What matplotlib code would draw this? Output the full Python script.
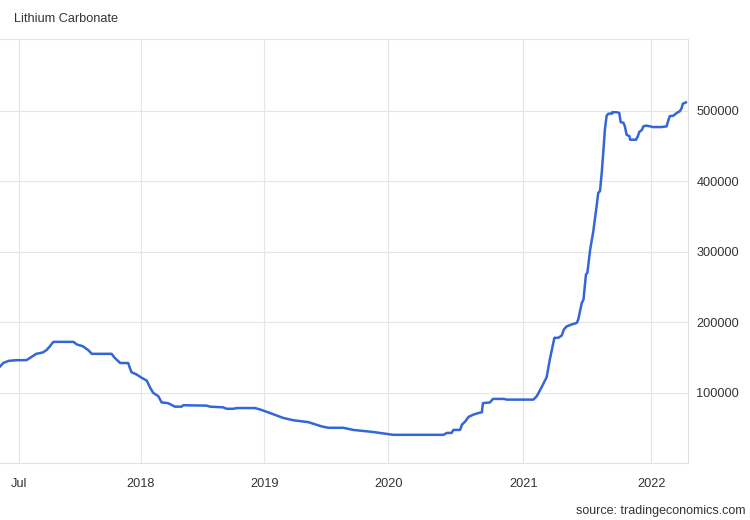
import numpy as np
import pandas as pd
import matplotlib
matplotlib.use("Agg")
import matplotlib.pyplot as plt
import matplotlib.dates as mdates

plt.rcParams['font.family'] = ['Liberation Sans', 'DejaVu Sans']

# Lithium carbonate price (CNY/T)
dates = [
    '2017-06-02', '2017-06-07', '2017-06-15', '2017-06-27', '2017-07-12', '2017-07-17',
    '2017-07-22', '2017-07-27', '2017-08-06', '2017-08-11', '2017-08-16', '2017-08-21',
    '2017-08-22', '2017-09-21', '2017-09-27', '2017-10-05', '2017-10-14', '2017-10-19',
    '2017-11-18', '2017-11-23', '2017-12-01', '2017-12-13', '2017-12-18', '2017-12-26',
    '2018-01-04', '2018-01-19', '2018-01-29', '2018-02-07', '2018-02-22', '2018-03-04',
    '2018-03-23', '2018-04-12', '2018-05-02', '2018-05-07', '2018-07-15', '2018-07-25',
    '2018-09-02', '2018-09-12', '2018-10-02', '2018-10-12', '2018-12-05', '2018-12-20',
    '2019-01-18', '2019-02-26', '2019-03-28', '2019-05-11', '2019-06-19', '2019-07-09',
    '2019-08-22', '2019-09-20', '2019-11-18', '2020-01-15', '2020-05-30', '2020-06-08',
    '2020-06-21', '2020-06-26', '2020-07-14', '2020-07-19', '2020-07-28', '2020-08-06',
    '2020-08-19', '2020-09-02', '2020-09-11', '2020-09-14', '2020-10-03', '2020-10-11',
    '2020-11-09', '2020-11-18', '2021-01-30', '2021-02-09', '2021-02-23', '2021-03-09',
    '2021-03-18', '2021-03-31', '2021-04-11', '2021-04-21', '2021-04-27', '2021-05-05',
    '2021-05-19', '2021-06-03', '2021-06-07', '2021-06-17', '2021-06-22', '2021-06-29',
    '2021-07-03', '2021-07-11', '2021-07-20', '2021-07-30', '2021-08-03', '2021-08-08',
    '2021-08-13', '2021-08-18', '2021-08-22', '2021-08-27', '2021-09-01', '2021-09-11',
    '2021-09-12', '2021-09-25', '2021-10-02', '2021-10-06', '2021-10-14', '2021-10-18',
    '2021-10-23', '2021-10-31', '2021-11-02', '2021-11-19', '2021-11-24', '2021-11-28',
    '2021-12-05', '2021-12-10', '2021-12-17', '2021-12-29', '2022-01-05', '2022-01-31',
    '2022-02-14', '2022-02-18', '2022-02-23', '2022-03-05', '2022-03-15', '2022-03-24',
    '2022-03-29', '2022-04-01', '2022-04-10',
]
prices = [
    137000, 142000, 145000, 146000, 146000, 149000,
    152000, 155000, 157000, 160000, 165000, 171000,
    172000, 172000, 168000, 166000, 160000, 155000,
    155000, 149000, 142000, 142000, 129000, 125600,
    121000, 117000, 107000, 99600, 95000, 86000,
    85000, 80000, 80000, 82000, 81500, 80000,
    79000, 77000, 77000, 78000, 78000, 76000,
    71000, 64000, 60700, 58000, 52000, 50000,
    50000, 47000, 44000, 40000, 40000, 42700,
    42700, 47000, 47000, 54500, 59000, 65500,
    68700, 71000, 72000, 85000, 86000, 91000,
    91000, 90000, 90000, 95000, 108000, 122000,
    147000, 177700, 177700, 181000, 189500, 194000,
    196600, 199000, 203700, 227000, 232000, 267600,
    270000, 303000, 329000, 367000, 383600, 386000,
    412000, 445000, 473600, 493000, 496000, 496000,
    498000, 498000, 497000, 484000, 483000, 478000,
    466000, 464000, 459000, 459000, 464000, 470000,
    472600, 478000, 479000, 478000, 477000, 477000,
    478000, 485000, 492500, 493000, 497000, 499600,
    504000, 510000, 512000,
]

tick_dates = ['2017-07-01', '2018-01-01', '2019-01-01', '2020-01-01', '2021-01-01', '2022-01-01']
tick_labels = ['Jul', '2018', '2019', '2020', '2021', '2022']
y_ticks = [100000, 200000, 300000, 400000, 500000]

# the source plots by observation, so each year gets its own width on the axis
anchor_dates = ['2017-01-01', '2017-07-01', '2018-01-01', '2019-01-01',
                '2020-01-01', '2021-01-01', '2022-01-01', '2023-01-01']
anchor_width = [-100.5, 19, 140.5, 264, 388, 523, 651, 779]
anchor_num = mdates.date2num(pd.to_datetime(anchor_dates))


def fwd(v):
    return np.interp(v, anchor_num, anchor_width)


def inv(v):
    return np.interp(v, anchor_width, anchor_num)


x = mdates.date2num(pd.to_datetime(dates))

fig = plt.figure(figsize=(7.5, 5.2), dpi=100)
ax = fig.add_axes([0, 57 / 520, 688 / 750, 424 / 520])
ax.set_xscale('function', functions=(fwd, inv))

ax.plot(x, prices, color='#3366d6', linewidth=1.8, solid_joinstyle='round')

ax.set_xlim(mdates.date2num(pd.Timestamp('2017-06-02')), mdates.date2num(pd.Timestamp('2022-04-16')))
ax.set_ylim(0, 602000)

ax.set_xticks(mdates.date2num(pd.to_datetime(tick_dates)))
ax.set_xticklabels(tick_labels)
ax.xaxis.set_minor_locator(matplotlib.ticker.NullLocator())
ax.set_yticks(y_ticks)
ax.set_yticklabels([str(v) for v in y_ticks])
ax.yaxis.tick_right()

ax.tick_params(axis='x', length=0, pad=11, labelsize=9.2, labelcolor='#333333')
ax.tick_params(axis='y', length=0, pad=6, labelsize=9.2, labelcolor='#333333')

ax.grid(True, color='#e6e6e6', linewidth=0.8)
ax.set_axisbelow(True)
ax.spines['left'].set_visible(False)
for side in ['top', 'bottom', 'right']:
    ax.spines[side].set_color('#e0e0e0')
    ax.spines[side].set_linewidth(0.8)
ax.spines['top'].set_color('#e6e6e6')

fig.text(14 / 750, 1 - 19 / 520, 'Lithium Carbonate', fontsize=9.2, color='#333333',
         ha='left', va='center')
fig.text(745 / 750, 1 - 511 / 520, 'source: tradingeconomics.com', fontsize=9.0,
         color='#333333', ha='right', va='center')

fig.savefig('out.png', dpi=100, facecolor='white')
